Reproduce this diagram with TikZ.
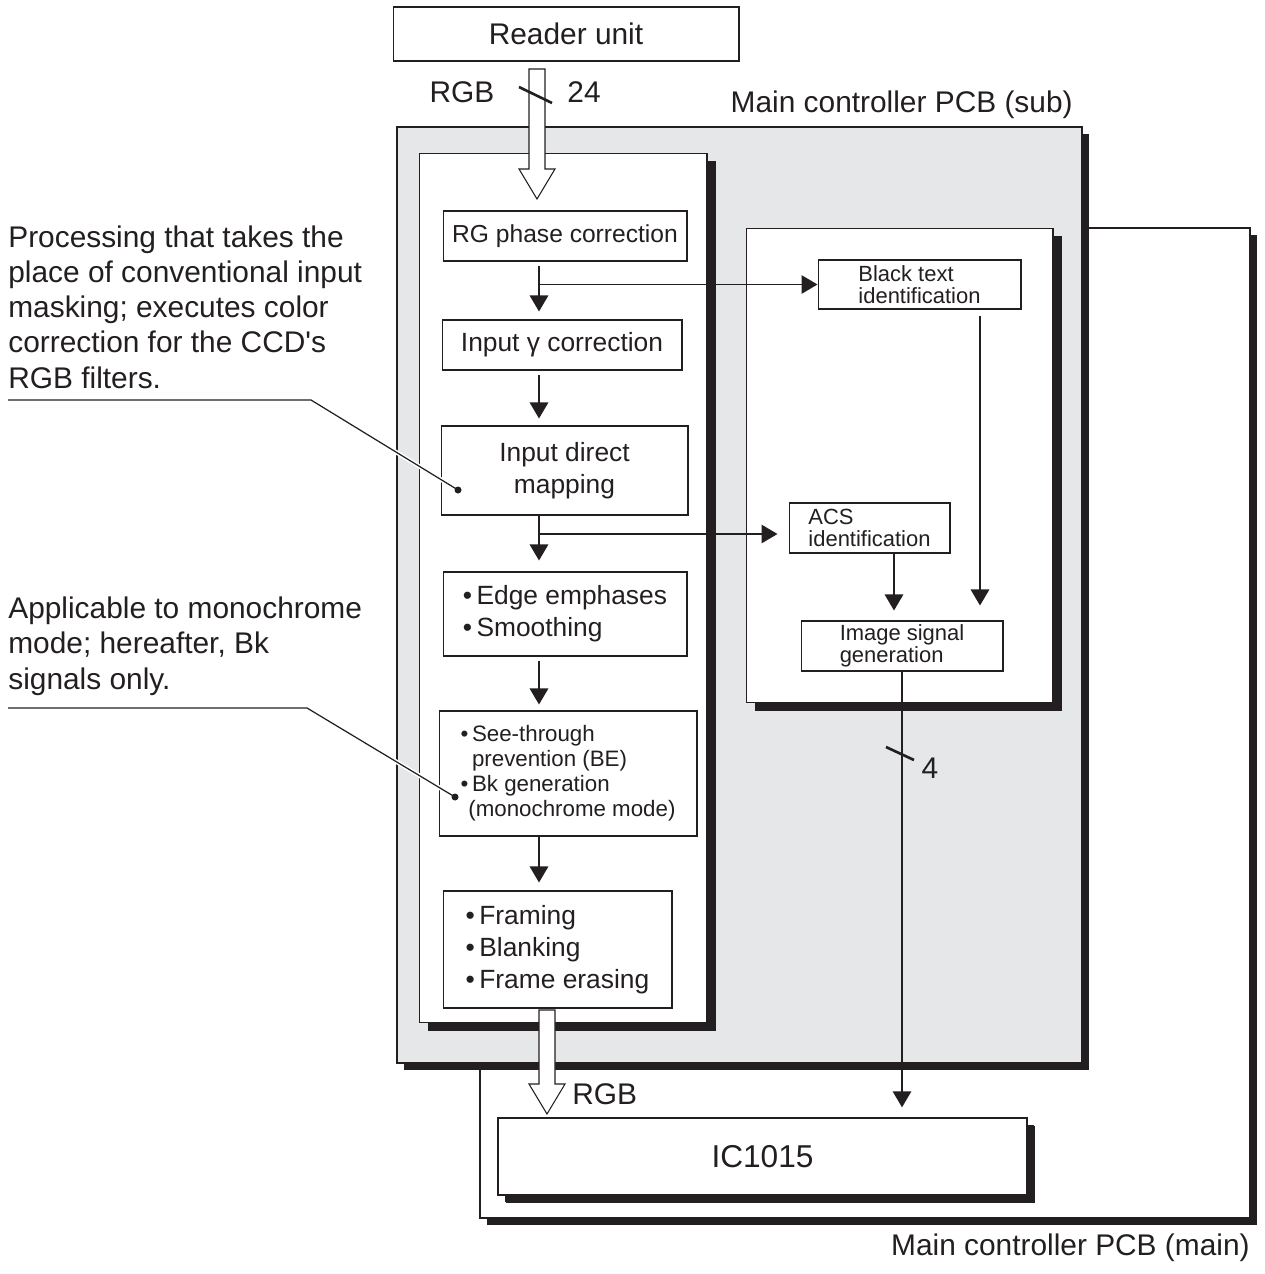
\documentclass[tikz,border=0pt]{standalone}
\usepackage{fontspec}
\setmainfont{Liberation Sans}
\usepackage{tikz}
\usetikzlibrary{arrows.meta,positioning,calc,shadows}
\usepackage{xcolor}
\definecolor{ink}{HTML}{231F20}
\definecolor{pcbgray}{HTML}{E6E7E8}
\newcommand{\bigfont}{\fontsize{17}{20.1}\selectfont}
\newcommand{\boxfont}{\fontsize{15}{18.2}\selectfont}
\newcommand{\smallfont}{\fontsize{12.7}{14.3}\selectfont}
\newcommand{\idfont}{\fontsize{12.5}{12.6}\selectfont}
\tikzset{
    flowBox/.style={
        draw=ink,
        fill=white,
        line width=0.6pt,
        inner sep=0pt,
        align=center,
        font=\boxfont
    },
    listBox/.style={flowBox, align=left},
    smallBox/.style={flowBox, align=left, font=\smallfont},
    idBox/.style={flowBox, align=left, font=\idfont},
    panel/.style={
        draw=ink,
        fill=white,
        line width=0.6pt,
        inner sep=0pt,
        drop shadow={shadow xshift=0.18cm, shadow yshift=-0.16cm, fill=ink, opacity=1}
    },
    board/.style={
        draw=ink,
        line width=1.1pt,
        inner sep=0pt,
        drop shadow={shadow xshift=0.14cm, shadow yshift=-0.14cm, fill=ink, opacity=1}
    },
    noteText/.style={align=left, inner sep=0pt, font=\bigfont},
}
\newcommand{\hollowArrow}[2]{%
    \draw[hollow] ($(#1)+(-8,0)$) -- ($(#2)+(-8,-30)$) -- ($(#2)+(-18,-30)$) -- (#2)
        -- ($(#2)+(18,-30)$) -- ($(#2)+(8,-30)$) -- ($(#1)+(8,0)$) -- cycle;}

\begin{document}
\begin{tikzpicture}[x=0.02cm, y=-0.02cm, color=ink, font=\bigfont,
    arr/.style={-{Triangle[length=0.32cm, width=0.37cm]}, line width=0.8pt},
    hollow/.style={draw=ink, fill=white, line width=0.6pt, line join=miter},
    slash/.style={line width=1.5pt},
    leader/.style={line width=0.7pt}
]
    \useasboundingbox (0,0) rectangle (1264,1274);

    % Boards and panels
    \node[board, fill=white, minimum width=15.4cm, minimum height=19.8cm] (mainpcb) at (865,723) {};
    \node[board, fill=pcbgray, minimum width=13.7cm, minimum height=18.72cm] (subpcb) at (739.5,595) {};
    \node[panel, minimum width=5.76cm, minimum height=17.4cm] (leftpanel) at (563,588) {};
    \node[panel, minimum width=6.14cm, minimum height=9.5cm] (rightpanel) at (899.5,465.5) {};
    \node[board, fill=white, line width=0.8pt, font=\fontsize{18}{20}\selectfont,
        drop shadow={shadow xshift=0.16cm, shadow yshift=-0.16cm, fill=ink, opacity=1},
        minimum width=10.58cm, minimum height=1.54cm] (ic) at (762.5,1156.5) {IC1015};
    \node[flowBox, font=\bigfont, minimum width=6.92cm, minimum height=1.08cm] (reader) at (566,34) {Reader unit};

    \node[anchor=east, inner sep=0pt] (subLabel) at (1073,105) {Main controller PCB (sub)};
    \node[anchor=east, inner sep=0pt] (mainLabel) at (1250,1248) {Main controller PCB (main)};

    % Processing flow
    \node[flowBox, font=\fontsize{14}{17}\selectfont, minimum width=4.88cm, minimum height=1cm] (rgphase) at (565,236) {RG phase correction};
    \node[flowBox, minimum width=4.8cm, minimum height=1cm] (gamma) at (562,345) {Input γ correction};
    \node[flowBox, minimum width=4.94cm, minimum height=1.78cm] (mapping) at (564.5,470.5) {Input direct\\mapping};
    \node[listBox, minimum width=4.88cm, minimum height=1.68cm] (edge) at (565,614) {\textbullet\,Edge emphases\\\textbullet\,Smoothing};
    \node[smallBox, minimum width=5.16cm, minimum height=2.5cm] (seethru) at (568,773.5)
        {\textbullet\,See-through\\\phantom{\textbullet\,}prevention (BE)\\\textbullet\,Bk generation\\\hspace*{4.5pt}(monochrome mode)};
    \node[listBox, minimum width=4.58cm, minimum height=2.34cm] (framing) at (557.5,949.5)
        {\textbullet\,Framing\\\textbullet\,Blanking\\\textbullet\,Frame erasing};

    \coordinate (flowcol) at (539,0);
    \draw[arr, shorten <=0.08cm, shorten >=0.16cm] (rgphase.south -| flowcol) -- (gamma.north -| flowcol);
    \draw[arr, shorten <=0.08cm, shorten >=0.14cm] (gamma.south -| flowcol) -- (mapping.north -| flowcol);
    \draw[arr, shorten >=0.22cm] (mapping.south -| flowcol) -- (edge.north -| flowcol);
    \draw[arr, shorten <=0.08cm, shorten >=0.12cm] (edge.south -| flowcol) -- (seethru.north -| flowcol);
    \draw[arr, shorten >=0.16cm] (seethru.south -| flowcol) -- (framing.north -| flowcol);

    % Identification side
    \node[idBox, minimum width=4.06cm, minimum height=0.98cm] (blacktext) at (919.5,284.5) {Black text\\identification};
    \node[idBox, minimum width=3.22cm, minimum height=1cm] (acs) at (869.5,528) {ACS\\identification};
    \node[idBox, minimum width=4.04cm, minimum height=1cm] (imgsig) at (902,646) {Image signal\\generation};

    \draw[arr] (blacktext.west -| flowcol) -- (blacktext.west);
    \draw[arr, shorten >=0.22cm] ([yshift=-0.12cm]acs.west -| flowcol) -- ([yshift=-0.12cm]acs.west);
    \draw[arr, shorten <=0.12cm, shorten >=0.3cm] ([xshift=1.21cm]blacktext.south) -- ([xshift=1.21cm]blacktext.south |- imgsig.north);
    \draw[arr, shorten >=0.2cm] ([xshift=0.49cm]acs.south) -- ([xshift=0.49cm]acs.south |- imgsig.north);
    \draw[arr, shorten >=0.2cm] (imgsig.south) -- (imgsig.south |- ic.north);
    \draw[slash] (886,747) -- (914,760);
    \node (bits4) at (930,768) {4};

    % RGB buses
    \coordinate (rgbTop) at (537,69);
    \coordinate (rgbTip) at (537,199);
    \hollowArrow{rgbTop}{rgbTip}
    \draw[slash] (519,87) -- (552,103);
    \node (rgbIn) at (462,92) {RGB};
    \node (bits24) at (584,92) {24};

    \coordinate (rgbFrom) at (547,1010);
    \coordinate (rgbTo) at (547,1114);
    \hollowArrow{rgbFrom}{rgbTo}
    \node[anchor=west, inner sep=0pt] (rgbOut) at (572,1094) {RGB};

    % Notes
    \node[noteText, anchor=west] (noteMapping) at (8,307) {Processing that takes the\\place of conventional input\\masking; executes color\\correction for the CCD\textquotesingle s\\RGB filters.};
    \node[noteText, anchor=west] (noteMono) at (8,646) {Applicable to monochrome\\mode; hereafter, Bk\\signals only.};

    \coordinate (mapStart) at (8,400);
    \coordinate (mapBend) at (311,400);
    \coordinate (mapDot) at (458,490);
    \coordinate (monoStart) at (8,708);
    \coordinate (monoBend) at (307,708);
    \coordinate (monoDot) at (455,797);
    \draw[white, line width=2.5pt] (mapBend) -- ($(mapDot)!0.06!(mapBend)$);
    \draw[white, line width=2.5pt] (monoBend) -- ($(monoDot)!0.06!(monoBend)$);
    \draw[leader] (mapStart) -- (mapBend) -- (mapDot);
    \draw[leader] (monoStart) -- (monoBend) -- (monoDot);
    \fill (mapDot) circle (0.07cm);
    \fill (monoDot) circle (0.07cm);
\end{tikzpicture}
\end{document}
